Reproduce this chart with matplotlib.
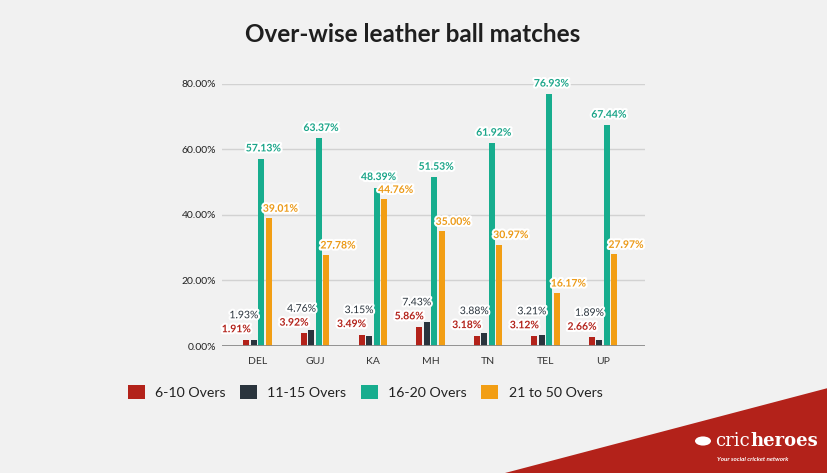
import matplotlib
matplotlib.use("Agg")
import matplotlib.pyplot as plt
import matplotlib.patheffects as pe
from matplotlib.patches import Polygon, Circle
import numpy as np

categories = ["DEL", "GUJ", "KA", "MH", "TN", "TEL", "UP"]
series_names = ["6-10 Overs", "11-15 Overs", "16-20 Overs", "21 to 50 Overs"]
overs_6_10 = [1.91, 3.92, 3.49, 5.86, 3.18, 3.12, 2.66]
overs_11_15 = [1.93, 4.76, 3.15, 7.43, 3.88, 3.21, 1.89]
overs_16_20 = [57.13, 63.37, 48.39, 51.53, 61.92, 76.93, 67.44]
overs_21_50 = [39.01, 27.78, 44.76, 35.00, 30.97, 16.17, 27.97]
y_ticks = [0, 20, 40, 60, 80]

bar_colors = ["#b3221a", "#2a343d", "#17ad8e", "#f29e14"]
label_colors = ["#b3221a", "#2a343d", "#1aa589", "#ec9a17"]
BG = "#f1f1f1"

plt.rcParams['font.family'] = ['Lato', 'DejaVu Sans']

fig = plt.figure(figsize=(8.28, 4.73), dpi=100, facecolor=BG)
ax = fig.add_axes([222/828, 1-346/473, (645-222)/828, (346-84)/473])
ax.set_facecolor(BG)

x = np.arange(len(categories))
step = 0.13
width = 0.104
all_series = [overs_6_10, overs_11_15, overs_16_20, overs_21_50]
bars = []
for i, vals in enumerate(all_series):
    b = ax.bar(x + (i - 1.5) * step, vals, width, color=bar_colors[i],
               label=series_names[i], zorder=3)
    bars.append(b)

ax.set_xlim(-0.618, 6.726)
ax.set_ylim(0, 80)
ax.set_yticks(y_ticks)
ax.set_yticklabels([f"{v:.2f}%" for v in y_ticks], fontsize=7.5, color="#222222")
ax.set_xticks(x)
ax.set_xticklabels(categories, fontsize=7.5, color="#333333")
ax.tick_params(axis='both', length=0)
ax.tick_params(axis='y', pad=4)
ax.tick_params(axis='x', pad=8)
for s in ax.spines.values():
    s.set_visible(False)
ax.grid(axis='y', color="#d2d2d2", linewidth=1, zorder=0)
ax.axhline(0, color="#8a8a8a", linewidth=2, zorder=4)

halo = [pe.withStroke(linewidth=3, foreground="white")]

def px_above(v):
    return ax.transData.transform((0, v))[1] - ax.transData.transform((0, 0))[1]

for j in range(len(categories)):
    xr = x[j] - 1.5 * step
    xd = x[j] - 0.5 * step
    xt = x[j] + 0.5 * step
    xo = x[j] + 1.5 * step
    r, d, t, o = overs_6_10[j], overs_11_15[j], overs_16_20[j], overs_21_50[j]
    ax.annotate(f"{r:.2f}%", (xr, r), xytext=(-10, 10), textcoords='offset pixels',
                ha='center', va='center', fontsize=7.5, fontweight='bold',
                color=label_colors[0], path_effects=halo, zorder=6)
    red_lab = px_above(r) + 10
    dark_lab = max(red_lab + 14, px_above(d) + 14)
    ax.annotate(f"{d:.2f}%", (xd, 0), xytext=(-10, dark_lab), textcoords='offset pixels',
                ha='center', va='center', fontsize=7.5,
                color=label_colors[1], path_effects=halo, zorder=6)
    ax.annotate(f"{t:.2f}%", (xt, t), xytext=(2, 10), textcoords='offset pixels',
                ha='center', va='center', fontsize=7.5, fontweight='bold',
                color=label_colors[2], path_effects=halo, zorder=6)
    ax.annotate(f"{o:.2f}%", (xo, o), xytext=(-6, 9), textcoords='offset pixels',
                ha='left', va='center', fontsize=7.5, fontweight='bold',
                color=label_colors[3], path_effects=halo, zorder=6)

fig.text(413/828, 1-35/473, "Over-wise leather ball matches", ha='center', va='center',
         fontsize=17.5, fontweight='bold', color="#1f1f1f")

leg = fig.legend(handles=bars, labels=series_names, loc='center',
                 bbox_to_anchor=(365/828, 1-392/473), ncol=4, frameon=False,
                 fontsize=10.2, handlelength=1.2, handleheight=1.15,
                 handletextpad=0.75, columnspacing=1.0, borderaxespad=0, borderpad=0)
for txt in leg.get_texts():
    txt.set_color("#222222")

# red corner banner
tri = Polygon([[505/828, 0], [1, 1-388/473], [1, 0]], closed=True,
              transform=fig.transFigure, facecolor="#b3221a", edgecolor='none', zorder=0)
fig.patches.append(tri)
fig.patches.append(Circle((703/828, 1-441/473), 8/828, transform=fig.transFigure,
                          facecolor='white', edgecolor='none', zorder=1))
t1 = fig.text(715/828, 1-441/473, "cric", ha='left', va='center', fontsize=13,
              color='white', family=['DejaVu Serif'])
fig.canvas.draw()
bb = t1.get_window_extent()
fig.text(bb.x1 / fig.bbox.width + 1/828, 1-441/473, "heroes", ha='left', va='center',
         fontsize=13, color='white', fontweight='bold', family=['DejaVu Serif'])
fig.text(717/828, 1-459/473, "Your social cricket network", ha='left', va='center',
         fontsize=4.5, color='white', style='italic', fontweight='bold')

fig.savefig("out.png", dpi=100, facecolor=BG)
